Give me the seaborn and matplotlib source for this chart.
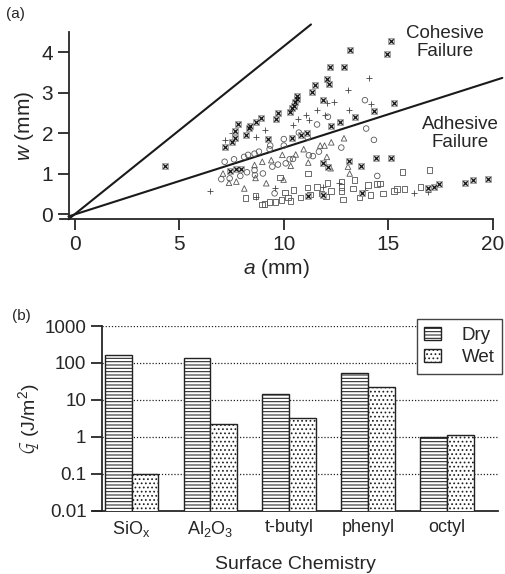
import numpy as np
import pandas as pd
import seaborn as sns
import matplotlib.pyplot as plt
from matplotlib.patches import Patch

# ---- panel (a): crack length a vs width w, one list per marker ----
ast_a = [4.33, 7.2, 7.52, 7.65, 7.68, 7.79, 8.18, 8.33, 8.4, 8.65, 8.9, 9.26, 9.64, 9.74,
         10.28, 10.38, 10.48, 10.55, 10.63, 10.65, 10.39, 11.35, 11.5, 11.12, 10.8, 11.87,
         12.06, 12.16, 12.19, 12.24, 11.87, 12.1, 12.9, 13.18, 13.39, 12.7, 13.1, 13.7,
         14.3, 14.42, 14.95, 15.14, 15.27, 15.14, 13.74, 11.87, 11.15, 16.9, 17.2, 17.42,
         18.68, 19.04, 19.78, 7.44, 7.73, 7.97]
ast_w = [1.20, 1.67, 1.78, 1.89, 2.07, 2.23, 1.96, 2.14, 2.19, 2.28, 2.38, 1.85, 2.35, 2.5,
         2.53, 2.62, 2.67, 2.77, 2.84, 2.93, 1.89, 3.03, 3.19, 2.0, 1.96, 2.82,
         3.35, 3.21, 3.65, 2.19, 1.28, 1.18, 3.64, 4.07, 2.4, 2.29, 1.32, 1.2,
         2.55, 1.4, 3.97, 4.29, 2.74, 1.4, 0.52, 0.49, 0.45, 0.64, 0.68, 0.74,
         0.78, 0.84, 0.87, 1.07, 1.13, 1.13]

plus_a = [6.49, 7.17, 7.52, 9.1, 8.69, 8.69, 11.08, 11.2, 10.44, 10.7, 11.59, 12.08, 12.38,
          11.95, 13.07, 13.12, 14.07, 14.15, 13.86, 16.25, 16.9, 9.56, 11.87, 12.64]
plus_w = [0.58, 1.84, 2.0, 2.08, 1.92, 0.44, 2.45, 2.33, 2.2, 2.35, 2.58, 2.76, 2.77,
          2.45, 3.07, 2.59, 3.36, 2.72, 0.6, 0.52, 0.56, 0.66, 0.68, 0.77]

circ_a = [7.01, 7.17, 7.41, 7.62, 7.92, 8.1, 8.24, 8.29, 8.6, 8.6, 8.81, 8.62, 9.0, 9.32,
          9.35, 9.45, 9.72, 10.0, 10.0, 10.09, 10.28, 10.44, 10.72, 11.14, 11.2, 11.39,
          11.59, 11.68, 12.11, 12.75, 13.88, 13.94, 14.31, 14.47, 9.56]
circ_w = [0.87, 1.3, 0.89, 1.36, 0.95, 1.42, 1.04, 1.47, 1.09, 1.5, 1.55, 0.97, 1.01, 1.61,
          1.7, 1.18, 1.23, 1.7, 1.86, 1.26, 1.36, 1.37, 2.02, 1.9, 1.46, 1.44,
          2.22, 1.55, 2.41, 1.65, 2.82, 2.12, 1.84, 0.95, 0.52]

tri_a = [7.09, 7.38, 7.73, 8.11, 8.6, 8.65, 8.97, 9.16, 9.4, 9.93, 9.99, 10.33, 10.57,
         10.95, 11.17, 11.74, 11.95, 12.27, 12.06, 12.24, 12.88, 13.07, 13.15]
tri_w = [1.01, 0.78, 0.81, 0.64, 1.22, 0.9, 1.3, 0.77, 1.34, 1.47, 0.86, 1.2, 1.48,
         1.61, 1.28, 1.7, 1.7, 1.78, 1.42, 1.14, 1.88, 1.18, 1.01]

sq_a = [8.16, 8.65, 8.97, 9.08, 9.32, 9.61, 9.88, 10.07, 10.2, 10.31, 10.47, 9.83, 10.8,
        11.14, 11.15, 11.24, 11.6, 11.8, 12.03, 12.08, 12.27, 12.75, 12.75, 12.75, 12.83,
        13.31, 13.39, 13.63, 14.02, 14.14, 14.47, 14.6, 14.74, 15.27, 15.41, 15.78, 15.67,
        16.54, 16.96]
sq_w = [0.4, 0.45, 0.25, 0.26, 0.3, 0.31, 0.35, 0.54, 0.42, 0.33, 0.6, 0.91, 0.42,
        0.66, 1.01, 0.49, 0.68, 0.52, 0.44, 0.77, 0.58, 0.81, 0.68, 0.58, 0.37,
        0.64, 0.85, 0.42, 0.72, 0.48, 0.75, 0.76, 0.52, 0.58, 0.63, 0.63, 1.05,
        0.67, 1.09]

# failure-mode boundary lines (end points)
upper_a = [-0.3, 11.3]
upper_w = [-0.12, 4.69]
lower_a = [-0.3, 20.45]
lower_w = [-0.05, 3.37]

# ---- panel (b): adhesion energy by surface ----
surfaces = ["SiO$_{\\mathregular{x}}$", "Al$_{\\mathregular{2}}$O$_{\\mathregular{3}}$",
            "t-butyl", "phenyl", "octyl"]
dry_G = [165, 134, 14.2, 55, 1.0]
wet_G = [0.102, 2.24, 3.2, 23, 1.1]

sns.set_style("ticks")
plt.rcParams['font.family'] = ['Liberation Sans', 'DejaVu Sans']
plt.rcParams['mathtext.fontset'] = 'custom'
plt.rcParams['mathtext.rm'] = 'Liberation Sans'
plt.rcParams['mathtext.it'] = 'Liberation Sans:italic'
plt.rcParams['hatch.color'] = '#2a2a2a'
plt.rcParams['hatch.linewidth'] = 0.75

fig = plt.figure(figsize=(5.05, 5.74), dpi=100)
ax1 = fig.add_axes([0.119, 0.618, 0.857, 0.326])
ax2 = fig.add_axes([0.184, 0.110, 0.802, 0.322])

# ---------- (a) ----------
ax1.plot(upper_a, upper_w, color='#1a1a1a', lw=1.5, clip_on=False, zorder=1)
ax1.plot(lower_a, lower_w, color='#1a1a1a', lw=1.5, clip_on=False, zorder=1)

open_kw = dict(facecolor='none', s=16, linewidth=0.6, ax=ax1, legend=False, zorder=3)
sns.scatterplot(x=sq_a, y=sq_w, marker='s', edgecolor='#555555', **open_kw)
sns.scatterplot(x=tri_a, y=tri_w, marker='^', edgecolor='#555555', **open_kw)
sns.scatterplot(x=circ_a, y=circ_w, marker='o', edgecolor='#555555', **open_kw)
sns.scatterplot(x=plus_a, y=plus_w, marker='+', color='#444444', s=22, linewidth=0.6,
                ax=ax1, legend=False, zorder=3)
# boxed cross: light square with a dark x inside
sns.scatterplot(x=ast_a, y=ast_w, marker='s', facecolor='#d9d9d9', edgecolor='#888888',
                s=14, linewidth=0.5, ax=ax1, legend=False, zorder=3)
sns.scatterplot(x=ast_a, y=ast_w, marker='x', color='#111111', s=10, linewidth=0.9,
                ax=ax1, legend=False, zorder=4)

ax1.set_xlim(-0.7, 20)
ax1.set_ylim(-0.12, 4.5)
ax1.spines['left'].set_position(('data', -0.27))
ax1.spines[['top', 'right']].set_visible(False)
for s in ['left', 'bottom']:
    ax1.spines[s].set_linewidth(1.3)
ax1.set_xticks([0, 5, 10, 15, 20])
ax1.set_yticks([0, 1, 2, 3, 4])
ax1.tick_params(labelsize=15, length=8, width=1.3, direction='out')
ax1.set_xlabel("$\\mathit{a}$ (mm)", fontsize=15, labelpad=2)
ax1.set_ylabel("$\\mathit{w}$ (mm)", fontsize=15, labelpad=4)
ax1.text(17.7, 4.25, "Cohesive\nFailure", ha='center', va='center', fontsize=13.5,
         linespacing=1.05)
ax1.text(18.45, 2.0, "Adhesive\nFailure", ha='center', va='center', fontsize=13.5,
         linespacing=1.05)
fig.text(0.012, 0.975, "(a)", fontsize=11, va='center')

# ---------- (b) ----------
df = pd.DataFrame({
    "surface": surfaces * 2,
    "G": dry_G + wet_G,
    "cond": ["Dry"] * len(surfaces) + ["Wet"] * len(surfaces),
})
sns.barplot(data=df, x="surface", y="G", hue="cond", width=0.68, color='white',
            edgecolor='#222222', linewidth=1.0, ax=ax2, legend=False, zorder=3)
hatches = {0: '-----', 1: '....'}
for i, cont in enumerate(ax2.containers):
    for bar in cont:
        bar.set_facecolor('white')
        bar.set_hatch(hatches[i])
        bar.set_edgecolor('#222222')

ax2.set_yscale('log')
ax2.set_ylim(0.01, 1000)
ax2.set_xlim(-0.49, 4.65)
ticks = [0.01, 0.1, 1, 10, 100, 1000]
ax2.set_yticks(ticks)
ax2.set_yticklabels(["0.01", "0.1", "1", "10", "100", "1000"])
ax2.yaxis.set_minor_locator(plt.NullLocator())
ax2.spines['left'].set_position(('data', -0.37))
ax2.spines[['top', 'right']].set_visible(False)
for s in ['left', 'bottom']:
    ax2.spines[s].set_linewidth(1.3)
ax2.tick_params(axis='y', labelsize=13.5, length=8, width=1.3)
ax2.tick_params(axis='x', labelsize=13, length=0, pad=6)
for t in ticks[1:]:
    ax2.axhline(t, xmin=(0.12 / 5.14), xmax=1, color='#222222', lw=0.9,
                ls=(0, (1, 1.5)), zorder=1)
ax2.set_xlabel("Surface Chemistry", fontsize=14, labelpad=12)
ax2.set_ylabel("$\\mathcal{G}$ (J/m$^2$)", fontsize=14, labelpad=2)

handles = [Patch(facecolor='white', edgecolor='#222222', hatch=hatches[0], label='Dry'),
           Patch(facecolor='white', edgecolor='#222222', hatch=hatches[1], label='Wet')]
leg = ax2.legend(handles=handles, loc='upper right', bbox_to_anchor=(1.01, 1.038),
                 borderaxespad=0, fontsize=13.5, fancybox=False, framealpha=1,
                 edgecolor='#444444', handlelength=0.9, handleheight=0.7,
                 handletextpad=1.1, borderpad=0.4, labelspacing=0.3)
leg.get_frame().set_linewidth(1.0)
fig.text(0.024, 0.45, "(b)", fontsize=11, va='center')

fig.savefig("out.png", dpi=100)
